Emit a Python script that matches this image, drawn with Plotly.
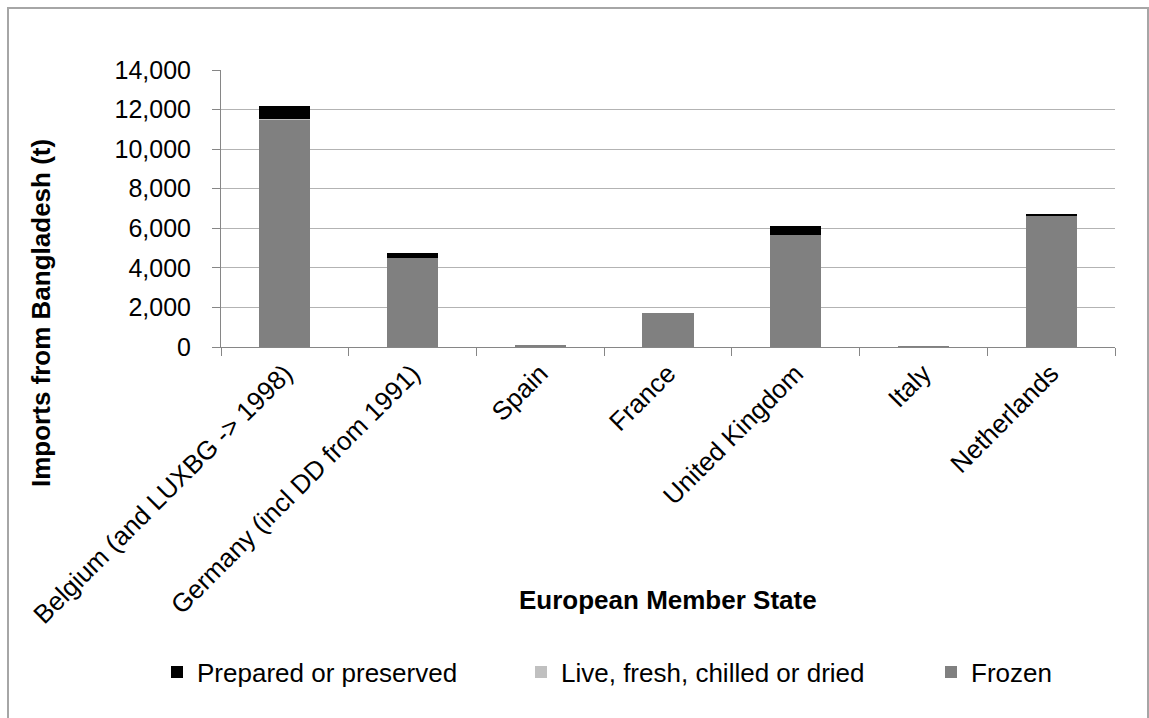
import plotly.graph_objects as go

# Imports from Bangladesh by EU member state (tonnes)
states = [
    "Belgium (and LUXBG -> 1998)",
    "Germany (incl DD from 1991)",
    "Spain",
    "France",
    "United Kingdom",
    "Italy",
    "Netherlands",
]
frozen = [11500, 4500, 60, 1730, 5650, 10, 6620]
live_fresh = [30, 0, 0, 0, 0, 0, 0]
prepared = [650, 270, 0, 0, 450, 0, 120]

FONT = "Liberation Sans, Arial, sans-serif"

# plot-area pixel frame, used to place titles and the outer frame in paper units
PX_L, PX_R, PX_T, PX_B = 221, 1115, 70, 347


def px_x(px):
    return (px - PX_L) / (PX_R - PX_L)


def px_y(py):
    return (PX_B - py) / (PX_B - PX_T)


fig = go.Figure()
fig.add_trace(go.Bar(name="Frozen", x=states, y=frozen,
                     marker=dict(color="#808080", line=dict(width=0)),
                     legend="legend3"))
fig.add_trace(go.Bar(name="Live, fresh, chilled or dried", x=states, y=live_fresh,
                     marker=dict(color="#c0c0c0", line=dict(width=0)),
                     legend="legend2"))
fig.add_trace(go.Bar(name="Prepared or preserved", x=states, y=prepared,
                     marker=dict(color="#000000", line=dict(width=0)),
                     legend="legend"))

leg_common = dict(orientation="h", yanchor="middle", y=px_y(672), xanchor="left",
                  font=dict(family=FONT, size=26, color="#000000"),
                  bgcolor="rgba(0,0,0,0)", borderwidth=0)

fig.update_layout(
    width=1149, height=718,
    margin=dict(l=PX_L, r=1149 - PX_R, t=PX_T, b=718 - PX_B),
    paper_bgcolor="#ffffff", plot_bgcolor="#ffffff",
    barmode="stack", bargap=0.6,
    font=dict(family=FONT, size=24, color="#000000"),
    showlegend=True,
    legend=dict(x=px_x(157), **leg_common),
    legend2=dict(x=px_x(521), **leg_common),
    legend3=dict(x=px_x(931), **leg_common),
    xaxis=dict(
        type="category", tickangle=-45, tickson="boundaries",
        ticks="outside", ticklen=8, tickcolor="#868686",
        showline=True, linecolor="#868686", linewidth=1,
        showgrid=False, tickfont=dict(family=FONT, size=26),
    ),
    yaxis=dict(
        range=[0, 14000], dtick=2000, tickformat=",",
        ticks="outside", ticklen=8, tickcolor="#868686",
        showline=True, linecolor="#868686", linewidth=1,
        showgrid=True, gridcolor="#b3b3b3", gridwidth=1,
        zeroline=False, ticklabelstandoff=16,
        tickfont=dict(family=FONT, size=25),
    ),
    annotations=[
        dict(text="<b>European Member State</b>", xref="paper", yref="paper",
             x=px_x(668), y=px_y(600), xanchor="center", yanchor="middle",
             showarrow=False, font=dict(family=FONT, size=26)),
        dict(text="<b>Imports from Bangladesh (t)</b>", xref="paper", yref="paper",
             x=px_x(41), y=px_y(313), xanchor="center", yanchor="middle",
             textangle=-90, showarrow=False, font=dict(family=FONT, size=26)),
    ],
    shapes=[dict(type="rect", xref="paper", yref="paper",
                 x0=px_x(8), x1=px_x(1148), y0=px_y(760), y1=px_y(8),
                 line=dict(color="#a6a6a6", width=2), layer="below")],
)

fig.write_html("out.html")
